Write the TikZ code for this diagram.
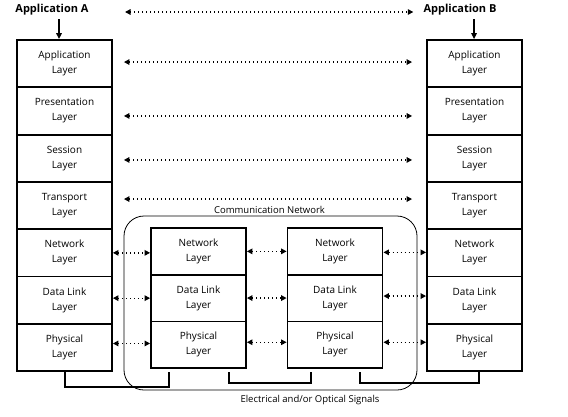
\documentclass[tikz,border=0pt]{standalone}
\usepackage{fontspec}
\setmainfont{Open Sans}
\usetikzlibrary{arrows.meta,calc}
\begin{document}
\begin{tikzpicture}[x=1pt,y=-1pt,
  layer/.style={draw,line width=1.8pt,minimum width=95pt,minimum height=47.3pt,align=center,
    font=\fontsize{10}{15}\selectfont,inner sep=0pt},
  ilayer/.style={layer,minimum height=46.7pt},
  tip/.tip={Triangle[length=5.5pt,width=5.5pt]},
  darr/.style={line width=1.3pt,dash pattern=on 1.3pt off 2.7pt,tip-tip},
  darrow/.style={line width=1.3pt,-{Triangle[length=6pt,width=5.5pt]}},
  wire/.style={line width=1.8pt},
  lbl/.style={font=\fontsize{9.5}{11}\selectfont,inner sep=0pt},
  ttl/.style={font=\bfseries\fontsize{11}{12}\selectfont,inner sep=0pt}]
\useasboundingbox (0,0) rectangle (568,416);
% left stack
\node[layer] (lapp) at (64.5,63.65) {Application\\Layer};
\node[layer] (lpre) at (64.5,110.95) {Presentation\\Layer};
\node[layer] (lses) at (64.5,158.25) {Session\\Layer};
\node[layer] (ltra) at (64.5,205.55) {Transport\\Layer};
\node[layer] (lnet) at (64.5,252.85) {Network\\Layer};
\node[layer] (ldl)  at (64.5,300.15) {Data Link\\Layer};
\node[layer] (lphy) at (64.5,347.45) {Physical\\Layer};
% right stack
\node[layer] (rapp) at (474.5,63.65) {Application\\Layer};
\node[layer] (rpre) at (474.5,110.95) {Presentation\\Layer};
\node[layer] (rses) at (474.5,158.25) {Session\\Layer};
\node[layer] (rtra) at (474.5,205.55) {Transport\\Layer};
\node[layer] (rnet) at (474.5,252.85) {Network\\Layer};
\node[layer] (rdl)  at (474.5,300.15) {Data Link\\Layer};
\node[layer] (rphy) at (474.5,347.45) {Physical\\Layer};
% communication network
\node[draw,rounded corners=20pt,line width=0.8pt,minimum width=293pt,minimum height=174pt,inner sep=0pt] (net) at (270.5,303) {};
\node[lbl] (netlbl) at (269.5,210) {Communication Network};
\node[lbl] (sig) at (310,400) {Electrical and/or Optical Signals};
% inner stacks
\node[ilayer] (anet) at (198.5,251.35) {Network\\Layer};
\node[ilayer] (adl)  at (198.5,298.05) {Data Link\\Layer};
\node[ilayer] (aphy) at (198.5,344.75) {Physical\\Layer};
\node[ilayer] (bnet) at (335,251.35) {Network\\Layer};
\node[ilayer] (bdl)  at (335,298.05) {Data Link\\Layer};
\node[ilayer] (bphy) at (335,344.75) {Physical\\Layer};
% titles
\node[ttl] (appA) at (52,10) {Application A};
\node[ttl] (appB) at (460,10) {Application B};
\draw[darrow] (59,19) coordinate (aa) -- (aa |- lapp.north);
\draw[darrow] (474,19) coordinate (bb) -- (bb |- rapp.north);
% long peer arrows
\coordinate (ta) at (125,12);
\coordinate (tb) at ($(ta -| appB.west)+(-10,0)$);
\draw[darr] (ta) -- (tb);
\draw[darr] ([xshift=11pt,yshift=1.6pt]lapp.east) -- ([xshift=-14pt,yshift=1.6pt]rapp.west);
\draw[darr] ([xshift=11pt,yshift=-5pt]lpre.east) -- ([xshift=-14pt,yshift=-5pt]rpre.west);
\draw[darr] ([xshift=11pt,yshift=-1.7pt]lses.east) -- ([xshift=-14pt,yshift=-1.7pt]rses.west);
\draw[darr] ([xshift=11pt,yshift=6.5pt]ltra.east) -- ([xshift=-14pt,yshift=6.5pt]rtra.west);
% short peer arrows
\draw[darr] (lnet.east) -- (lnet.east -| anet.west);
\draw[darr] ([yshift=2pt]ldl.east) -- ([yshift=2pt]ldl.east -| adl.west);
\draw[darr] ([yshift=4pt]lphy.east) -- ([yshift=4pt]lphy.east -| aphy.west);
\draw[darr] (anet.east) -- (anet.east -| bnet.west);
\draw[darr] (adl.east) -- (adl.east -| bdl.west);
\draw[darr] ([yshift=2.5pt]aphy.east) -- ([yshift=2.5pt]aphy.east -| bphy.west);
\draw[darr] ([yshift=-1pt]bnet.east) -- ([yshift=-1pt]bnet.east -| rnet.west);
\draw[darr] ([yshift=2pt]bdl.east) -- ([yshift=2pt]bdl.east -| rdl.west);
\draw[darr] ([yshift=2.5pt]bphy.east) -- ([yshift=2.5pt]bphy.east -| rphy.west);
% wires
\draw[wire] ([xshift=0.5pt]lphy.south) -- ++(0,15) -| ([xshift=-29.5pt,yshift=-3pt]aphy.south);
\draw[wire] ([xshift=30.5pt,yshift=-3pt]aphy.south) -- ++(0,11) -| ([xshift=-24pt,yshift=-3pt]bphy.south);
\draw[wire] ([xshift=25pt,yshift=-3pt]bphy.south) -- ++(0,11) -| ([xshift=4.5pt]rphy.south);
\end{tikzpicture}
\end{document}
